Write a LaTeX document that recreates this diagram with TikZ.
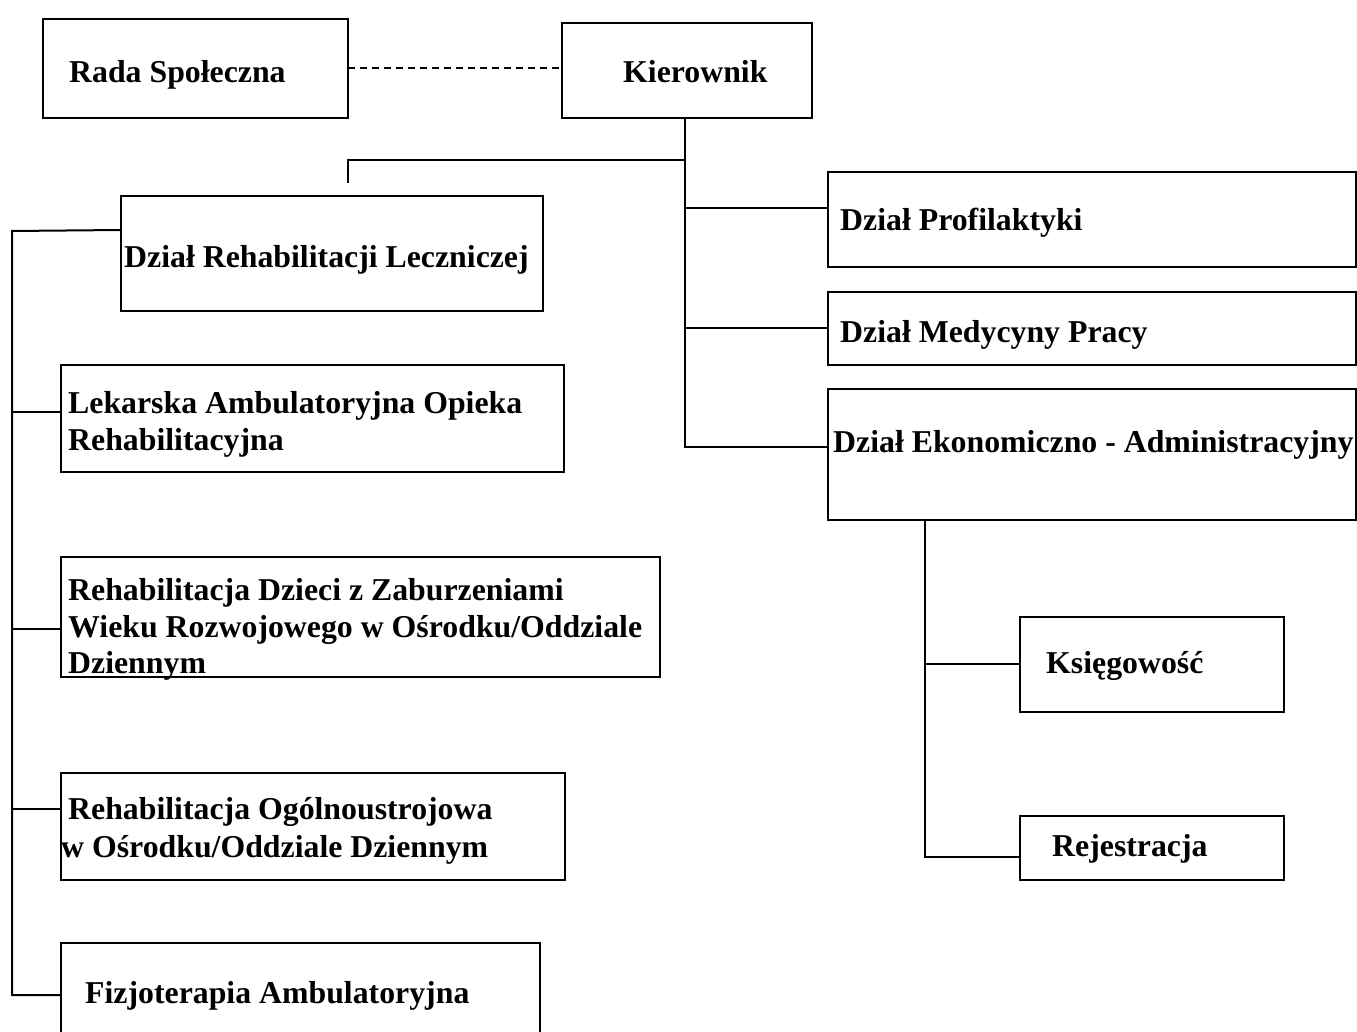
\documentclass[tikz,border=0pt]{standalone}
\usepackage{fontspec}
\setmainfont{Liberation Serif}
\newcommand\mkbox[5]{\node[box, minimum width={#4pt-#2pt}, minimum height={#5pt-#3pt}] (#1) at ({(#2+#4)/2},{(#3+#5)/2}) {};}
\begin{document}
\begin{tikzpicture}[x=1pt,y=-1pt,
  box/.style={draw, rectangle, line width=2pt, inner sep=0pt, outer sep=0pt},
  lbl/.style={anchor=base west, inner sep=0pt, font=\fontsize{31.8}{36}\selectfont\bfseries},
  conn/.style={line width=2pt}]
\useasboundingbox (0,0) rectangle (1357,1032);
\clip (0,0) rectangle (1357,1032);
% boxes
\mkbox{rada}{43}{19}{348}{118}
\mkbox{kier}{562}{23}{812}{118}
\mkbox{drl}{121}{196}{543}{311}
\mkbox{prof}{828}{172}{1356}{267}
\mkbox{med}{828}{292}{1356}{365}
\mkbox{eko}{828}{389}{1356}{520}
\mkbox{lek}{61}{365}{564}{472}
\mkbox{dzieci}{61}{557}{660}{677}
\mkbox{ogol}{61}{773}{565}{880}
\mkbox{fizjo}{61}{943}{540}{1060}
\mkbox{ksieg}{1020}{617}{1284}{712}
\mkbox{rej}{1020}{816}{1284}{880}
% labels
\node[lbl] (t-rada) at (69,83) {Rada Społeczna};
\node[lbl] (t-kier) at (623,83) {Kierownik};
\node[lbl] (t-drl) at (124,268) {Dział Rehabilitacji Leczniczej};
\node[lbl] (t-prof) at (840,231) {Dział Profilaktyki};
\node[lbl] (t-med) at (840,342) {Dział Medycyny Pracy};
\node[lbl] (t-eko) at (833,452) {Dział Ekonomiczno - Administracyjny};
\node[lbl] (t-lek1) at (68,413) {Lekarska Ambulatoryjna Opieka};
\node[lbl] (t-lek2) at (68,450) {Rehabilitacyjna};
\node[lbl] (t-dz1) at (68,600) {Rehabilitacja Dzieci z Zaburzeniami};
\node[lbl] (t-dz2) at (68,637) {Wieku Rozwojowego w Ośrodku/Oddziale};
\node[lbl] (t-dz3) at (68,673) {Dziennym};
\node[lbl] (t-og1) at (68,819) {Rehabilitacja Ogólnoustrojowa};
\node[lbl] (t-og2) at (61,857) {w Ośrodku/Oddziale Dziennym};
\node[lbl] (t-fiz) at (85,1003) {Fizjoterapia Ambulatoryjna};
\node[lbl] (t-ksieg) at (1046,673) {Księgowość};
\node[lbl] (t-rej) at (1052,856) {Rejestracja};
% junction coordinates
\coordinate (ktop) at (685,118);
\coordinate (kbr) at (685,160);
\coordinate (kp) at (685,208);
\coordinate (km) at (685,328);
\coordinate (ke) at (685,447);
\coordinate (dtop) at (348,160);
\coordinate (dend) at (348,183);
\coordinate (ltop) at (12,231);
\coordinate (l1) at (12,412);
\coordinate (l2) at (12,629);
\coordinate (l3) at (12,809);
\coordinate (l4) at (12,995);
\coordinate (etop) at (925,520);
\coordinate (e1) at (925,664);
\coordinate (e2) at (925,857);
% connectors
\draw[conn, dashed, line width=1.5pt, dash pattern=on 7pt off 5pt] (rada.east |- 0,68) -- (kier.west |- 0,68);
\draw[conn] (ktop) -- (ke) -- (ke -| eko.west);
\draw[conn] (kbr) -- (dtop) -- (dend);
\draw[conn] (kp) -- (kp -| prof.west);
\draw[conn] (km) -- (km -| med.west);
\draw[conn] (drl.west |- 0,230) -- (ltop) -- (l4) -- (l4 -| fizjo.west);
\draw[conn] (l1) -- (l1 -| lek.west);
\draw[conn] (l2) -- (l2 -| dzieci.west);
\draw[conn] (l3) -- (l3 -| ogol.west);
\draw[conn] (etop) -- (e2) -- (e2 -| rej.west);
\draw[conn] (e1) -- (e1 -| ksieg.west);
\end{tikzpicture}
\end{document}
